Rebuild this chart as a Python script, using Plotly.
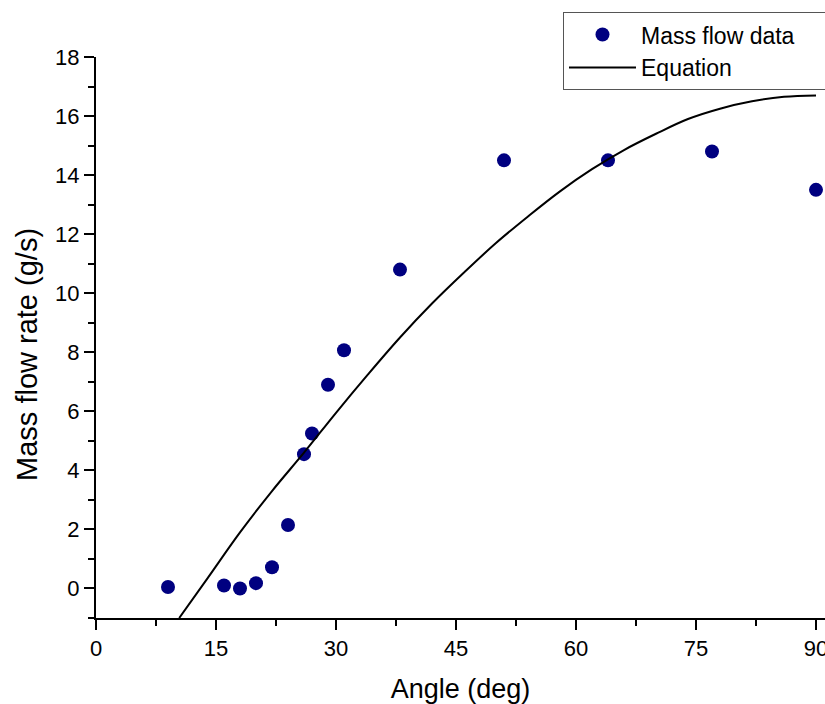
import plotly.graph_objects as go

# Measured data
angle_data = [9, 16, 18, 20, 22, 24, 26, 27, 29, 31, 38, 51, 64, 77, 90]
mass_flow = [0.05, 0.1, 0.0, 0.18, 0.72, 2.15, 4.55, 5.25, 6.9, 8.07, 10.8, 14.5, 14.5, 14.8, 13.5]

# Equation curve
angle_eq = [10.4, 14, 18, 22, 26, 30, 34, 38, 42, 46, 50, 54, 58, 62, 66, 70, 74, 78, 82, 86, 90]
mass_eq = [-1.0, 0.37, 1.9, 3.3, 4.6, 5.95, 7.25, 8.5, 9.65, 10.7, 11.7, 12.6, 13.45, 14.2, 14.85,
           15.4, 15.9, 16.25, 16.5, 16.65, 16.7]

x_ticks = [0, 15, 30, 45, 60, 75, 90]
y_ticks = [0, 2, 4, 6, 8, 10, 12, 14, 16, 18]

FONT = "Liberation Sans, Arial, sans-serif"

fig = go.Figure()
fig.add_trace(go.Scatter(
    x=angle_data, y=mass_flow, mode="markers", name="Mass flow data\u00a0\u00a0\u00a0\u00a0",
    marker=dict(color="#000080", size=14, line=dict(width=0)),
))
fig.add_trace(go.Scatter(
    x=angle_eq, y=mass_eq, mode="lines", name="Equation",
    line=dict(color="black", width=2, shape="spline"),
))

axis_common = dict(
    showgrid=False, zeroline=False, showline=True, linecolor="black", linewidth=2,
    ticks="outside", ticklen=10, tickwidth=2, tickcolor="black",
    tickfont=dict(family=FONT, size=22, color="black"),
    ticklabeloverflow="allow", automargin=False,
)

fig.update_layout(
    width=825, height=704,
    margin=dict(l=96, r=0, t=57, b=86, autoexpand=False),
    paper_bgcolor="white", plot_bgcolor="white",
    font=dict(family=FONT, color="black"),
    xaxis=dict(
        range=[0, 91.125], tickvals=x_ticks,
        title=dict(text="Angle (deg)", font=dict(family=FONT, size=27), standoff=19),
        minor=dict(dtick=7.5, tick0=0, ticks="outside", ticklen=6, tickwidth=2, tickcolor="black"),
        **axis_common,
    ),
    yaxis=dict(
        range=[-1, 18], tickvals=y_ticks,
        minor=dict(dtick=1, tick0=0, ticks="outside", ticklen=6, tickwidth=2, tickcolor="black"),
        **axis_common,
    ),
    annotations=[dict(
        text="Mass flow rate (g/s)", textangle=-90, showarrow=False,
        xref="paper", yref="paper", x=-0.0947, y=0.4706,
        xanchor="center", yanchor="middle",
        font=dict(family=FONT, size=29, color="black"),
    )],
    legend=dict(
        x=0.6406, y=1.08, xanchor="left", yanchor="top",
        bordercolor="#555555", borderwidth=1, bgcolor="white",
        font=dict(family=FONT, size=23, color="black"),
        itemwidth=67, tracegroupgap=0,
    ),
    showlegend=True,
)

fig.write_html("out.html")
